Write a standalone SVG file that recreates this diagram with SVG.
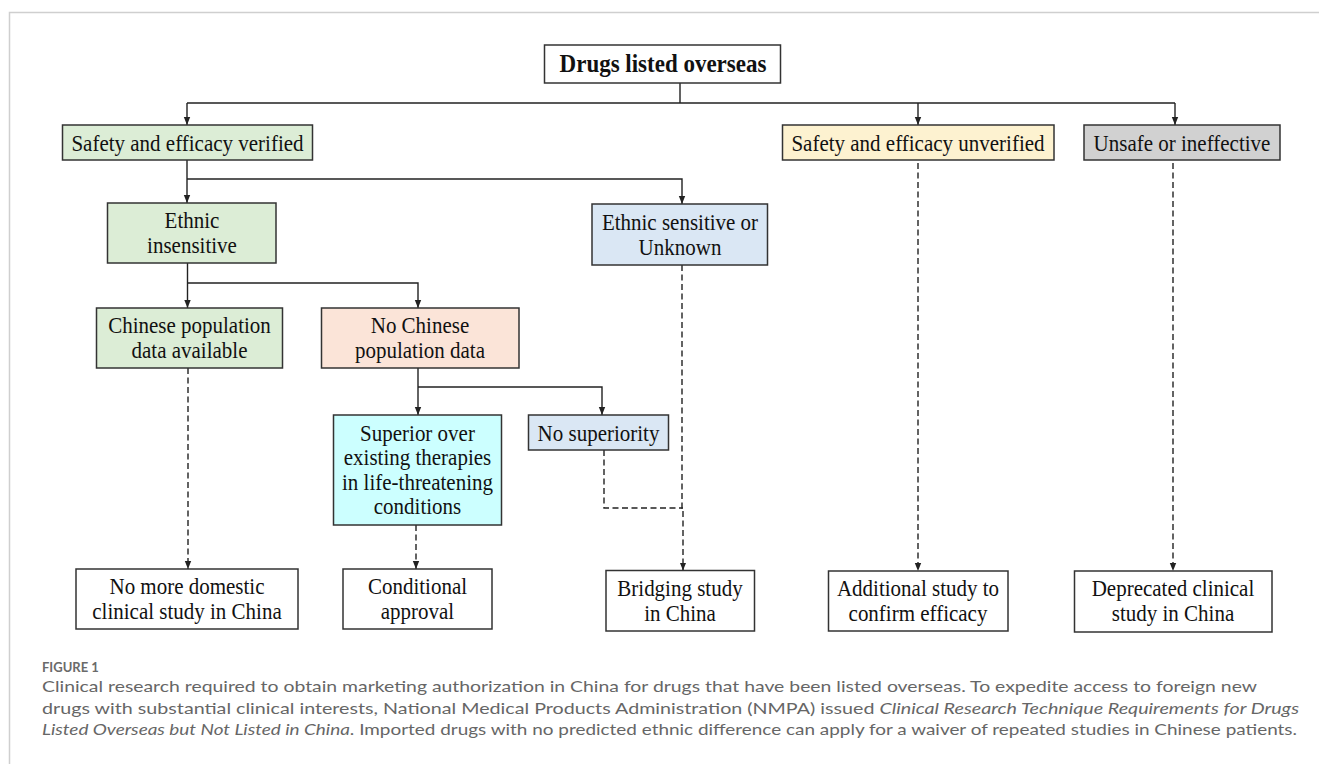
<svg xmlns="http://www.w3.org/2000/svg" width="1319" height="764" viewBox="0 0 1319 764">
<style>
.box{stroke:#333;stroke-width:1.5}
.t{font-family:"Liberation Serif","Times New Roman",serif;font-size:21px;fill:#111;text-anchor:middle;transform-box:fill-box;transform-origin:center;transform:scaleY(1.1)}
.tb{font-family:"Liberation Serif","Times New Roman",serif;font-size:23px;font-weight:bold;fill:#111;text-anchor:middle;transform-box:fill-box;transform-origin:center;transform:scaleY(1.1)}
.ln{fill:none;stroke:#222;stroke-width:1.4}
.dash{fill:none;stroke:#222;stroke-width:1.4;stroke-dasharray:6 3.5}
.cap{font-family:"Lato","Open Sans",sans-serif;font-size:16px;fill:#666}
.fig{font-family:"Lato","Open Sans",sans-serif;font-size:13px;font-weight:bold;fill:#6a6a6a}
</style>
<defs>
<marker id="ah" viewBox="0 0 8 8" refX="8" refY="4" markerWidth="8" markerHeight="8" markerUnits="userSpaceOnUse" orient="auto">
<path d="M0,0.8 L8,4 L0,7.2 Z" fill="#222"/>
</marker>
</defs>
<rect width="1319" height="764" fill="#fff"/>
<path d="M9.5,764 V12.5 H1319" fill="none" stroke="#cfcfcf" stroke-width="1.5"/>

<g id="connectors">
<path class="ln" d="M680,83 V103 M187,103 H1175"/>
<path class="ln" d="M187,103 V125" marker-end="url(#ah)"/>
<path class="ln" d="M918,103 V125" marker-end="url(#ah)"/>
<path class="ln" d="M1175,103 V125" marker-end="url(#ah)"/>
<path class="ln" d="M187,160 V203" marker-end="url(#ah)"/>
<path class="ln" d="M187,179 H682 V204" marker-end="url(#ah)"/>
<path class="ln" d="M187.5,263 V308" marker-end="url(#ah)"/>
<path class="ln" d="M187.5,283 H418 V308" marker-end="url(#ah)"/>
<path class="ln" d="M418,368 V415" marker-end="url(#ah)"/>
<path class="ln" d="M418,387 H602 V415" marker-end="url(#ah)"/>
<path class="dash" d="M188,368 V569" marker-end="url(#ah)"/>
<path class="dash" d="M416,525 V569" marker-end="url(#ah)"/>
<path class="dash" d="M604,450 V508 H683"/>
<path class="dash" d="M682,265 V508 L683,508 V570.5" marker-end="url(#ah)"/>
<path class="dash" d="M918,163 V571" marker-end="url(#ah)"/>
<path class="dash" d="M1173,163 V571" marker-end="url(#ah)"/>
</g>

<g id="n-top">
<rect class="box" x="544.5" y="45" width="236" height="38" fill="#fff"/>
<text class="tb" x="663" y="71.5">Drugs listed overseas</text>
</g>
<g id="n-verified">
<rect class="box" x="62.5" y="125" width="250" height="35" fill="#dcedd6"/>
<text class="t" x="187.5" y="150">Safety and efficacy verified</text>
</g>
<g id="n-unverified">
<rect class="box" x="782.5" y="125" width="271.5" height="35" fill="#fdf2d0"/>
<text class="t" x="918" y="150">Safety and efficacy unverified</text>
</g>
<g id="n-unsafe">
<rect class="box" x="1084" y="125" width="196" height="35" fill="#d1d1d1"/>
<text class="t" x="1182" y="150">Unsafe or ineffective</text>
</g>
<g id="n-insensitive">
<rect class="box" x="107.5" y="203" width="168.5" height="60" fill="#dcedd6"/>
<text class="t" x="192" y="227.5">Ethnic</text>
<text class="t" x="192" y="252.5">insensitive</text>
</g>
<g id="n-sensitive">
<rect class="box" x="592" y="204" width="175.5" height="61" fill="#dae7f4"/>
<text class="t" x="680" y="229">Ethnic sensitive or</text>
<text class="t" x="680" y="254">Unknown</text>
</g>
<g id="n-cn-data">
<rect class="box" x="96.5" y="308" width="186" height="60" fill="#dcedd6"/>
<text class="t" x="189.5" y="332.5">Chinese population</text>
<text class="t" x="189.5" y="357.5">data available</text>
</g>
<g id="n-no-cn-data">
<rect class="box" x="321.5" y="308" width="197.5" height="60" fill="#fbe4d8"/>
<text class="t" x="420" y="332.5">No Chinese</text>
<text class="t" x="420" y="357.5">population data</text>
</g>
<g id="n-superior">
<rect class="box" x="333.5" y="415" width="168" height="110" fill="#ccffff"/>
<text class="t" x="417.5" y="440">Superior over</text>
<text class="t" x="417.5" y="464.5">existing therapies</text>
<text class="t" x="417.5" y="489">in life-threatening</text>
<text class="t" x="417.5" y="513.5">conditions</text>
</g>
<g id="n-nosup">
<rect class="box" x="528.5" y="415" width="140" height="35" fill="#dae7f4"/>
<text class="t" x="598.5" y="440">No superiority</text>
</g>
<g id="n-nomore">
<rect class="box" x="76" y="569" width="222" height="60" fill="#fff"/>
<text class="t" x="187" y="593.5">No more domestic</text>
<text class="t" x="187" y="618.5">clinical study in China</text>
</g>
<g id="n-conditional">
<rect class="box" x="343" y="569" width="149" height="60" fill="#fff"/>
<text class="t" x="417.5" y="593.5">Conditional</text>
<text class="t" x="417.5" y="618.5">approval</text>
</g>
<g id="n-bridging">
<rect class="box" x="606" y="570.5" width="148.5" height="60.5" fill="#fff"/>
<text class="t" x="680" y="595">Bridging study</text>
<text class="t" x="680" y="620">in China</text>
</g>
<g id="n-additional">
<rect class="box" x="828.5" y="571" width="179.5" height="60" fill="#fff"/>
<text class="t" x="918" y="595.5">Additional study to</text>
<text class="t" x="918" y="620.5">confirm efficacy</text>
</g>
<g id="n-deprecated">
<rect class="box" x="1074.5" y="571" width="197.5" height="61" fill="#fff"/>
<text class="t" x="1173" y="595.5">Deprecated clinical</text>
<text class="t" x="1173" y="620.5">study in China</text>
</g>

<g id="caption">
<text class="fig" x="42" y="672">FIGURE 1</text>
<text class="cap" x="42" y="692" textLength="1215" lengthAdjust="spacingAndGlyphs">Clinical research required to obtain marketing authorization in China for drugs that have been listed overseas. To expedite access to foreign new</text>
<text class="cap" x="42" y="713.5" textLength="1257" lengthAdjust="spacingAndGlyphs">drugs with substantial clinical interests, National Medical Products Administration (NMPA) issued <tspan font-style="italic">Clinical Research Technique Requirements for Drugs</tspan></text>
<text class="cap" x="42" y="735" textLength="1255" lengthAdjust="spacingAndGlyphs"><tspan font-style="italic">Listed Overseas but Not Listed in China</tspan>. Imported drugs with no predicted ethnic difference can apply for a waiver of repeated studies in Chinese patients.</text>
</g>
</svg>
